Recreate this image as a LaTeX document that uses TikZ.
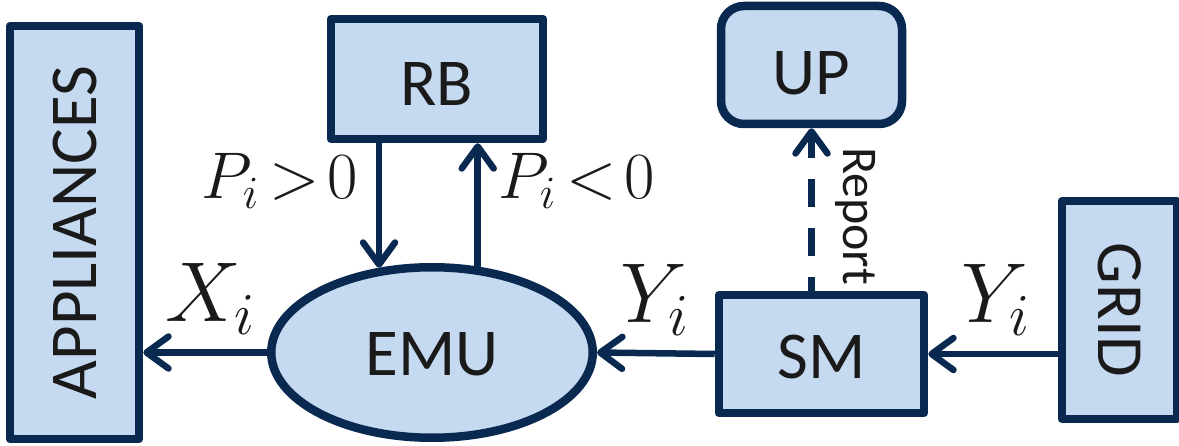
\RequirePackage{fix-cm}
\documentclass[tikz,border=0pt]{standalone}
\usepackage{fontspec}
\setsansfont{Carlito}
\usetikzlibrary{arrows.meta,shapes.geometric}
\definecolor{navy}{HTML}{0A2950}
\definecolor{boxfill}{HTML}{C5D9F0}
\definecolor{ink}{HTML}{1A1A1A}
\newcommand{\lowered}[2]{\raisebox{-#1}[\height][\depth]{#2}}
\begin{document}
\begin{tikzpicture}[x=1pt,y=-1pt,
  blk/.style={draw=navy, fill=boxfill, line width=8.5pt, line join=round, inner sep=0pt,
    font=\sffamily\fontsize{67}{67}\selectfont, text=ink},
  arr/.style={draw=navy, line width=6.5pt, -{Straight Barb[length=22pt,width=32pt,round]}},
  lbl/.style={anchor=base west, inner sep=0pt, text=ink}]
\useasboundingbox (0,0) rectangle (1179,446);
\node[blk, minimum width=129pt, minimum height=413pt] (APP) at (74.5,232.5)
  {\rotatebox{90}{\fontsize{67}{67}\selectfont APPLIANCES}};
\node[blk, minimum width=212pt, minimum height=120pt] (RB) at (437,79) {\lowered{5pt}{RB}};
\node[blk, rounded corners=23pt, minimum width=181pt, minimum height=118pt] (UP) at (811.5,65) {\lowered{8pt}{UP}};
\node[blk, minimum width=205pt, minimum height=118pt] (SM) at (821.5,354) {\lowered{3pt}{SM}};
\node[blk, minimum width=115pt, minimum height=218pt] (GRID) at (1119.5,310)
  {\rotatebox{-90}{\fontsize{66}{66}\selectfont GRID}};
\node[blk, ellipse, minimum width=321.5pt, minimum height=170.5pt] (EMU) at (432,352.5) {\lowered{1.5pt}{EMU}};

\draw[arr] (EMU.west) -- (EMU.west -| APP.east);
\draw[arr] (SM.west) -- (EMU.east);
\draw[arr] (SM.east -| GRID.west) -- (SM.east);
\draw[arr] (EMU.122 |- RB.south) -- (EMU.122);
\draw[arr] (EMU.62) -- (EMU.62 |- RB.south);
\draw[arr, dash pattern=on 28pt off 21pt, dash phase=14pt] (UP.south |- SM.north) -- (UP.south);

\node[lbl, font=\fontsize{85}{85}\selectfont] (Xl) at (165,322) {$X_i$};
\node[lbl, font=\fontsize{85}{85}\selectfont] (Yl) at (620,323) {$Y_i$};
\node[lbl, font=\fontsize{85}{85}\selectfont] (Yr) at (961,323) {$Y_i$};
\node[lbl, font=\fontsize{66}{66}\selectfont] (Pp) at (201,199) {$P_i\mkern-2mu>\mkern-3mu0$};
\node[lbl, font=\fontsize{66}{66}\selectfont] (Pn) at (498,199) {$P_i\mkern-2mu<\mkern-3mu0$};
\node[rotate=-90, anchor=base west, inner sep=0pt, text=ink,
  font=\sffamily\fontsize{50}{50}\selectfont] (rep) at (843,147) {Report};
\end{tikzpicture}
\end{document}
